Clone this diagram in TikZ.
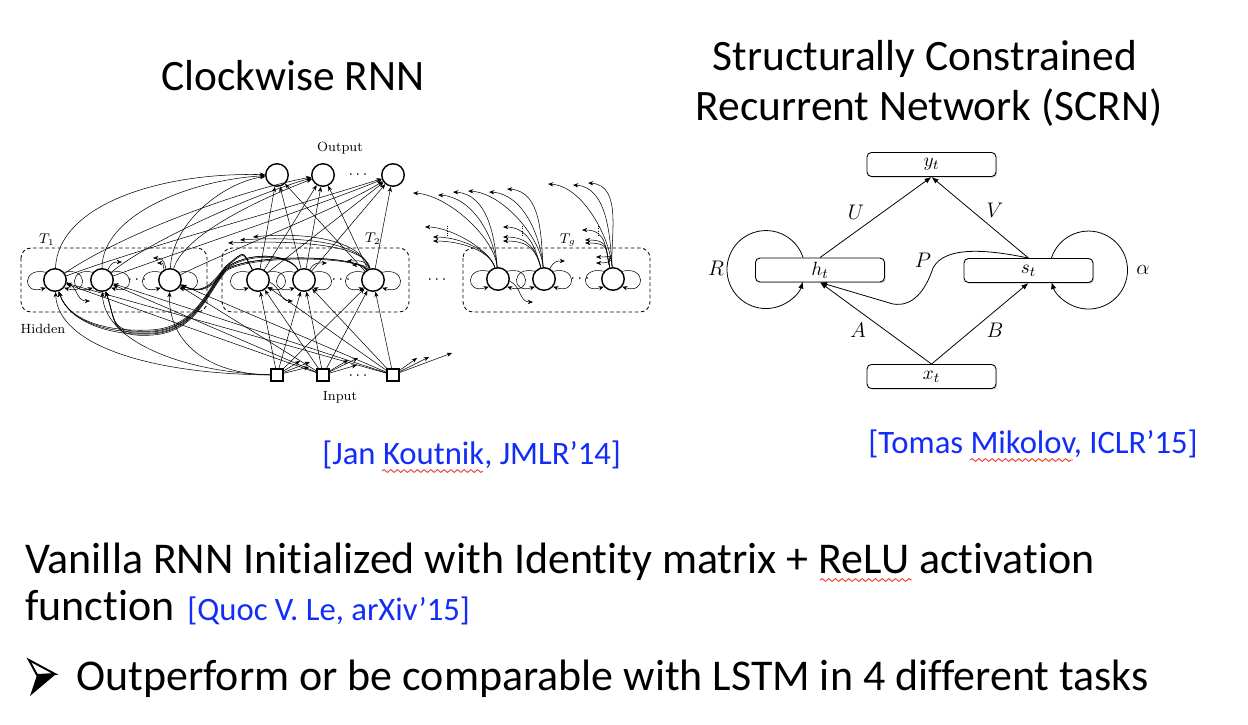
\documentclass[tikz,border=0pt]{standalone}
\usepackage{fontspec}
\usetikzlibrary{arrows.meta,shadows,decorations.pathmorphing,calc}
\newfontfamily\calib[Ligatures=NoCommon]{Carlito}
\definecolor{citeblue}{RGB}{18,44,250}
\definecolor{squig}{RGB}{235,60,45}
\begin{document}
\begin{tikzpicture}[x=0.02cm,y=-0.02cm,
  cw/.style={line width=0.3pt,-{Stealth[length=3pt,width=2.4pt]}},
  unit/.style={circle,draw,line width=0.8pt,minimum size=0.45cm,inner sep=0pt,fill=white},
  inp/.style={rectangle,draw,line width=0.7pt,minimum size=0.24cm,inner sep=0pt,fill=white},
  grp/.style={draw,line width=0.5pt,dash pattern=on 2pt off 1.5pt,rounded corners=0.2cm},
  lab/.style={font=\fontsize{7.6}{9}\selectfont,inner sep=0pt},
  dots/.style={font=\fontsize{9}{10}\selectfont,inner sep=0pt},
  sbox/.style={draw,line width=0.5pt,rounded corners=2.5pt,fill=white,minimum width=2.58cm,minimum height=0.48cm,inner sep=0pt,drop shadow={shadow xshift=0.7pt,shadow yshift=-0.7pt,opacity=0.35},font=\fontsize{11}{12}\selectfont},
  sarr/.style={line width=0.45pt,-{Latex[length=4pt,width=3pt]}},
  slab/.style={font=\fontsize{11.5}{12}\selectfont,inner sep=0pt},
  title/.style={font=\calib\fontsize{24.7}{30}\selectfont,inner sep=0pt,anchor=base},
  body/.style={font=\calib\fontsize{25}{30}\selectfont,inner sep=0pt,anchor=base west},
  cite/.style={font=\calib\fontsize{18.6}{22}\selectfont,text=citeblue,inner sep=0pt,anchor=base west},
  wavy/.style={draw=squig,line width=0.5pt,decorate,decoration={snake,amplitude=0.8pt,segment length=3.8pt}}
]
\fill[white] (0,0) rectangle (1248,724);
\useasboundingbox (0,0) rectangle (1248,724);

% ---------------- titles and text ----------------
\node[title] (t1) at (293,90) {Clockwise RNN};
\node[title] (t2) at (925,70) {Structurally Constrained};
\node[title] (t3) at (929,120) {Recurrent Network (SCRN)};
\node[cite] (c1) at (322,464) {[Jan Koutnik, JMLR’14]};
\node[cite] (c2) at (868,453) {[Tomas Mikolov, ICLR’15]};
\node[body] (l1) at (25,573) {Vanilla RNN Initialized with Identity matrix + ReLU activation};
\node[body] (l2) at (25,620) {function};
\node[cite] (c3) at (187,620) {[Quoc V. Le, arXiv’15]};
\node[body] (l3) at (76,690) {Outperform or be comparable with LSTM in 4 different tasks};
% bullet arrowhead
\draw[line width=1.1pt,line join=miter,fill=white] (29,660) -- (55,674) -- (37,675) -- cycle;
\fill[black] (37,675) -- (56,674) -- (30,696) -- cycle;
\draw[wavy] (382,471) -- (483,471);
\draw[wavy] (970,460) -- (1073,460);
\draw[wavy] (820,580) -- (912,580);

% ---------------- Clockwise RNN ----------------
\draw[grp] (21,248) rectangle (207,312);
\draw[grp] (222,248) rectangle (409,312);
\draw[grp] (463,248) rectangle (650,312);
\node[lab] (T1) at (47,240) {$T_1$};
\node[lab] (T2) at (373,239) {$T_2$};
\node[lab] (Tg) at (568,240) {$T_g$};
\node[lab] (olab) at (340,148) {Output};
\node[lab] (ilab) at (340,397) {Input};
\node[lab] (hlab) at (43,329) {Hidden};

\node[unit] (o1) at (277,175) {};
\node[unit] (o2) at (323,175) {};
\node[unit] (o3) at (393,175) {};
\node[dots] (od) at (358,175) {$\cdots$};
\node[unit] (a1) at (55,280) {};
\node[unit] (a2) at (102,280) {};
\node[unit] (a3) at (170,280) {};
\node[unit] (b1) at (258,280) {};
\node[unit] (b2) at (304,280) {};
\node[unit] (b3) at (373,280) {};
\node[unit] (g1) at (498,279) {};
\node[unit] (g2) at (544,279) {};
\node[unit] (g3) at (613,279) {};
\node[dots] (ad) at (137,280) {$\cdots$};
\node[dots] (bd) at (341,280) {$\cdots$};
\node[dots] (md) at (437,280) {$\cdots$};
\node[dots] (gd) at (580,279) {$\cdots$};
\node[inp] (i1) at (277,375) {};
\node[inp] (i2) at (323,375) {};
\node[inp] (i3) at (393,375) {};
\node[dots] (id) at (358,376) {$\cdots$};

% input -> T2, T2 -> output (straight)
\foreach \s in {i1,i2,i3}{\foreach \t in {b1,b2,b3}{\draw[cw] (\s) -- (\t);}}
\foreach \s in {b1,b2,b3}{\foreach \t in {o1,o2,o3}{\draw[cw] (\s) -- (\t);}}
% input -> T1
\foreach \s in {i2,i3}{\foreach \t in {a1,a2,a3}{\draw[cw] (\s) -- (\t);}}
\draw[cw] (i1) .. controls (150,374) and (58,345) .. (a1);
\draw[cw] (i1) .. controls (180,372) and (104,340) .. (a2);
\draw[cw] (i1) .. controls (205,374) and (168,340) .. (a3);
% T1 -> output
\draw[cw] (a1) .. controls (58,205) and (160,172) .. (o1);
\draw[cw] (a2) .. controls (102,215) and (190,180) .. (o1);
\draw[cw] (a3) .. controls (172,222) and (225,182) .. (o1);
\draw[cw] (a1) .. controls (120,235) and (240,190) .. (o2);
\draw[cw] (a2) .. controls (150,240) and (260,192) .. (o2);
\draw[cw] (a3) .. controls (185,232) and (270,195) .. (o2);
\draw[cw] (a1) .. controls (150,245) and (300,205) .. (o3);
\draw[cw] (a2) .. controls (190,248) and (320,205) .. (o3);
\draw[cw] (a3) .. controls (230,250) and (340,208) .. (o3);
% T2 -> T1 bundle
\foreach \k/\bx/\kk in {b1/258/0,b2/304/1,b3/373/2}{
  \foreach \j/\ax/\jj in {a1/55/0,a2/102/1}{
    \pgfmathsetmacro\d{2*\kk+1.2*\jj}
    \draw[cw] (\k) .. controls (\bx-16,250+\d) and (246,250+\d) .. (226,266+\d)
      .. controls (206,290+\d) and (196,328+\d) .. (150,330+\d)
      .. controls (110,332+\d) and (\ax+14,322) .. (\j);
  }
  \draw[cw] (\k) .. controls (\bx-16,250+2*\kk) and (246,250+2*\kk) .. (226,266+2*\kk)
    .. controls (214,280+2*\kk) and (205,296) .. (a3);
}
% ears
\foreach \n in {a1,a2,a3,b1,b2,b3,g1,g2,g3}{
  \draw[cw] (\n.140) .. controls +(-24,-6) and +(-24,8) .. (\n.220);
  \draw[cw] (\n.40) .. controls +(24,-6) and +(24,8) .. (\n.-40);
}
% small links inside groups
\coordinate (q1) at (90,301);
\coordinate (q2) at (293,301);
\coordinate (q3) at (122,262);
\coordinate (q4) at (327,263);
\coordinate (q5) at (533,302);
\coordinate (q6) at (565,261);
\coordinate (p1) at (153,258);
\coordinate (p2) at (157,263);
\coordinate (p3) at (347,261);
\coordinate (p4) at (352,265);
\draw[cw] (a1.-10) .. controls +(12,6) and +(-14,0) .. (q1);
\draw[cw] (b1.-10) .. controls +(12,6) and +(-14,0) .. (q2);
\draw[cw] (g1.-10) .. controls +(12,6) and +(-14,0) .. (q5);
\draw[cw] (a2.60) .. controls +(4,-8) and +(-8,0) .. (q3);
\draw[cw] (b2.60) .. controls +(4,-8) and +(-8,0) .. (q4);
\draw[cw] (g2.60) .. controls +(4,-8) and +(-8,0) .. (q6);
\draw[cw] (a3.110) .. controls +(-2,-10) and +(8,0) .. (p1);
\draw[cw] (a3.120) .. controls +(-2,-6) and +(8,0) .. (p2);
\draw[cw] (b3.110) .. controls +(-2,-10) and +(8,0) .. (p3);
\draw[cw] (b3.120) .. controls +(-2,-6) and +(8,0) .. (p4);
% T2 top-left arrows
\coordinate (e1) at (228,243);
\coordinate (e2) at (240,240);
\coordinate (e3) at (253,237);
\draw[cw] (b3) .. controls (365,245) and (300,240) .. (e1);
\draw[cw] (b3) .. controls (362,242) and (300,236) .. (e2);
\draw[cw] (b3) .. controls (360,238) and (300,232) .. (e3);
% Tg outgoing (long)
\foreach \g/\gx/\ex/\ey [count=\c] in {g1/498/413/193,g1/498/438/195,g1/498/453/192,
   g2/544/468/191,g2/544/489/192,g2/544/507/189,
   g3/613/548/184,g3/613/573/185,g3/613/588/183}{
  \coordinate (fl\c) at (\ex,\ey);
  \draw[cw] (\g) .. controls (\gx-3,238) and (\ex+35,\ey+2) .. (fl\c);
}
% Tg outgoing (short)
\foreach \g/\gx/\ex/\ey [count=\c] in {g1/498/425/227,g1/498/433/237,g1/498/433/241,
   g2/544/503/227,g2/544/503/237,g2/544/503/241,
   g3/613/582/230,g3/613/585/240,g3/613/585/243,g3/613/596/257,g3/613/596/263}{
  \coordinate (fs\c) at (\ex,\ey);
  \draw[cw] (\g) .. controls (\gx-8,250) and (\ex+26,\ey) .. (fs\c);
}
\foreach \xx in {447,522,598}{\draw[line width=0.3pt,densely dotted] (\xx,226) -- (\xx,236);}
% input outgoing to the right
\foreach \s/\ex/\ey [count=\c] in {i1/300/361,i1/310/362,i1/309/367,
   i2/348/360,i2/358/358,i2/357/365,
   i3/417/358,i3/429/357,i3/452/353}{
  \coordinate (fi\c) at (\ex,\ey);
  \draw[cw] (\s) -- (fi\c);
}

% ---------------- SCRN ----------------
\node[sbox] (y) at (931.5,164.5) {$y_t$};
\node[sbox] (h) at (820,270) {$h_t$};
\node[sbox] (s) at (1028.5,270.5) {$s_t$};
\node[sbox] (x) at (931.5,376.5) {$x_t$};
\draw[sarr] ($(h.north west)+(48,0)$) arc[start angle=17.9,end angle=342.1,radius=0.78cm];
\draw[sarr] ($(s.north east)+(-42,0)$) arc[start angle=162.1,end angle=-162.1,radius=0.78cm];
\draw[sarr] (h.north) -- (y.south);
\draw[sarr] (s.north) -- (y.south);
\draw[sarr] (x.north) -- (h.south);
\draw[sarr] (x.north) -- (s.south);
\draw[sarr] (s.north) .. controls (990,250) and (945,245) .. (933,268)
   .. controls (925,292) and (912,307) .. (893,304) -- (h.south);
\node[slab] (lR) at (716,268) {$R$};
\node[slab] (la) at (1143,270) {$\alpha$};
\node[slab] (lU) at (856,212) {$U$};
\node[slab] (lV) at (995,210) {$V$};
\node[slab] (lA) at (858,330) {$A$};
\node[slab] (lB) at (995,330) {$B$};
\node[slab] (lP) at (923,260) {$P$};
\end{tikzpicture}
\end{document}
